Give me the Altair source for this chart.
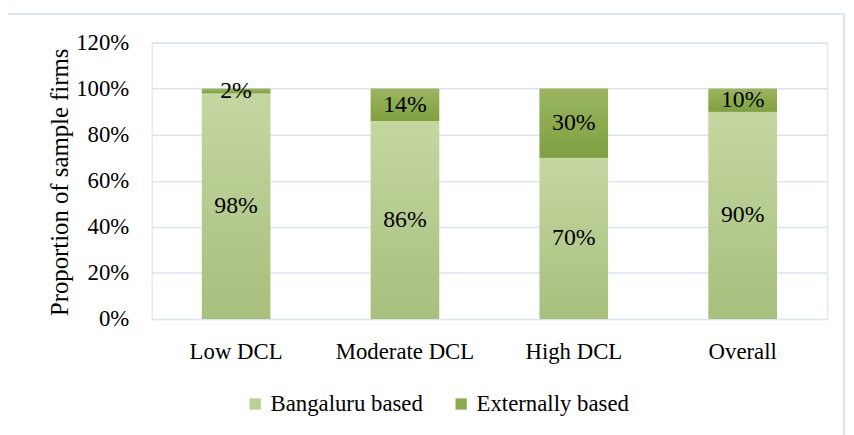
import altair as alt
import pandas as pd

categories = ["Low DCL", "Moderate DCL", "High DCL", "Overall"]
series = ["Bangaluru based", "Externally based"]
bangaluru = [0.98, 0.86, 0.70, 0.90]
external = [0.02, 0.14, 0.30, 0.10]
label_bang = ["98%", "86%", "70%", "90%"]
label_ext = ["2%", "14%", "30%", "10%"]

FONT = "Liberation Serif"
FS = 23
LIGHT = "#bccf95"
DARK = "#8cab4e"

rows = []
for i, c in enumerate(categories):
    rows.append(dict(cat=c, series=series[0], y0=0.0, y1=bangaluru[i],
                     mid=bangaluru[i] / 2, label=label_bang[i]))
    rows.append(dict(cat=c, series=series[1], y0=bangaluru[i], y1=bangaluru[i] + external[i],
                     mid=bangaluru[i] + external[i] / 2, label=label_ext[i]))
df = pd.DataFrame(rows)

W, H = 682, 279

xenc = alt.X("cat:N", sort=categories,
             scale=alt.Scale(paddingInner=0.595, paddingOuter=0.2975),
             axis=alt.Axis(title=None, labelAngle=0, labelFont=FONT, labelFontSize=FS,
                           labelColor="#000000", ticks=False, domain=False,
                           labelPadding=22, grid=False))
yscale = alt.Scale(domain=[0, 1.2])
yaxis = alt.Axis(title="Proportion of sample firms", format=".0%", values=[0, 0.2, 0.4, 0.6, 0.8, 1.0, 1.2],
                 labelFont=FONT, labelFontSize=FS, labelColor="#000000", labelPadding=23,
                 ticks=False, domain=False, gridColor="#d9e3f2", gridWidth=1.5,
                 titleFont=FONT, titleFontSize=25, titleFontWeight="normal", titleColor="#000000",
                 titleX=-93, titleY=H / 2 + 1, titleAngle=-90, titleAlign="center", titleBaseline="middle")

base = alt.Chart(df)

bars = base.mark_bar().encode(
    x=xenc,
    y=alt.Y("y0:Q", scale=yscale, axis=yaxis),
    y2="y1:Q",
    color=alt.Color("series:N", sort=series,
                    scale=alt.Scale(domain=series, range=[LIGHT, DARK]),
                    legend=alt.Legend(title=None, orient="none", direction="horizontal",
                                      legendX=93, legendY=353, symbolType="square",
                                      symbolSize=130, symbolStrokeWidth=0,
                                      labelFont=FONT, labelFontSize=FS, labelColor="#000000",
                                      labelOffset=4, columnPadding=27)),
)

grad_light = alt.Gradient(gradient="linear", x1=0, y1=0, x2=0, y2=1,
                          stops=[alt.GradientStop(color="#c4d7a1", offset=0),
                                 alt.GradientStop(color="#a8bf7d", offset=1)])
grad_dark = alt.Gradient(gradient="linear", x1=0, y1=0, x2=0, y2=1,
                         stops=[alt.GradientStop(color="#9cb660", offset=0),
                                alt.GradientStop(color="#7f9f40", offset=1)])

bars_light = base.transform_filter(alt.datum.series == series[0]).mark_bar(fill=grad_light).encode(
    x=alt.X("cat:N", sort=categories), y="y0:Q", y2="y1:Q")
bars_dark = base.transform_filter(alt.datum.series == series[1]).mark_bar(fill=grad_dark).encode(
    x=alt.X("cat:N", sort=categories), y="y0:Q", y2="y1:Q")

text = base.mark_text(font=FONT, fontSize=24, color="#000000", baseline="middle").encode(
    x=alt.X("cat:N", sort=categories), y="mid:Q", text="label:N")

frame = alt.Chart(pd.DataFrame({"a": [0]})).mark_rect(fill=None, stroke="#d9e3f2", strokeWidth=2).encode(
    x=alt.value(-146), x2=alt.value(699), y=alt.value(-29), y2=alt.value(420))

chart = alt.layer(frame, bars, bars_light, bars_dark, text).properties(
    width=W, height=H,
    autosize=alt.AutoSizeParams(type="none"),
    padding={"left": 145, "top": 33, "right": 19, "bottom": 115},
).configure_view(stroke=None).configure(background="#ffffff")

chart.save("out.html", embed_options={"renderer": "svg", "actions": False})
